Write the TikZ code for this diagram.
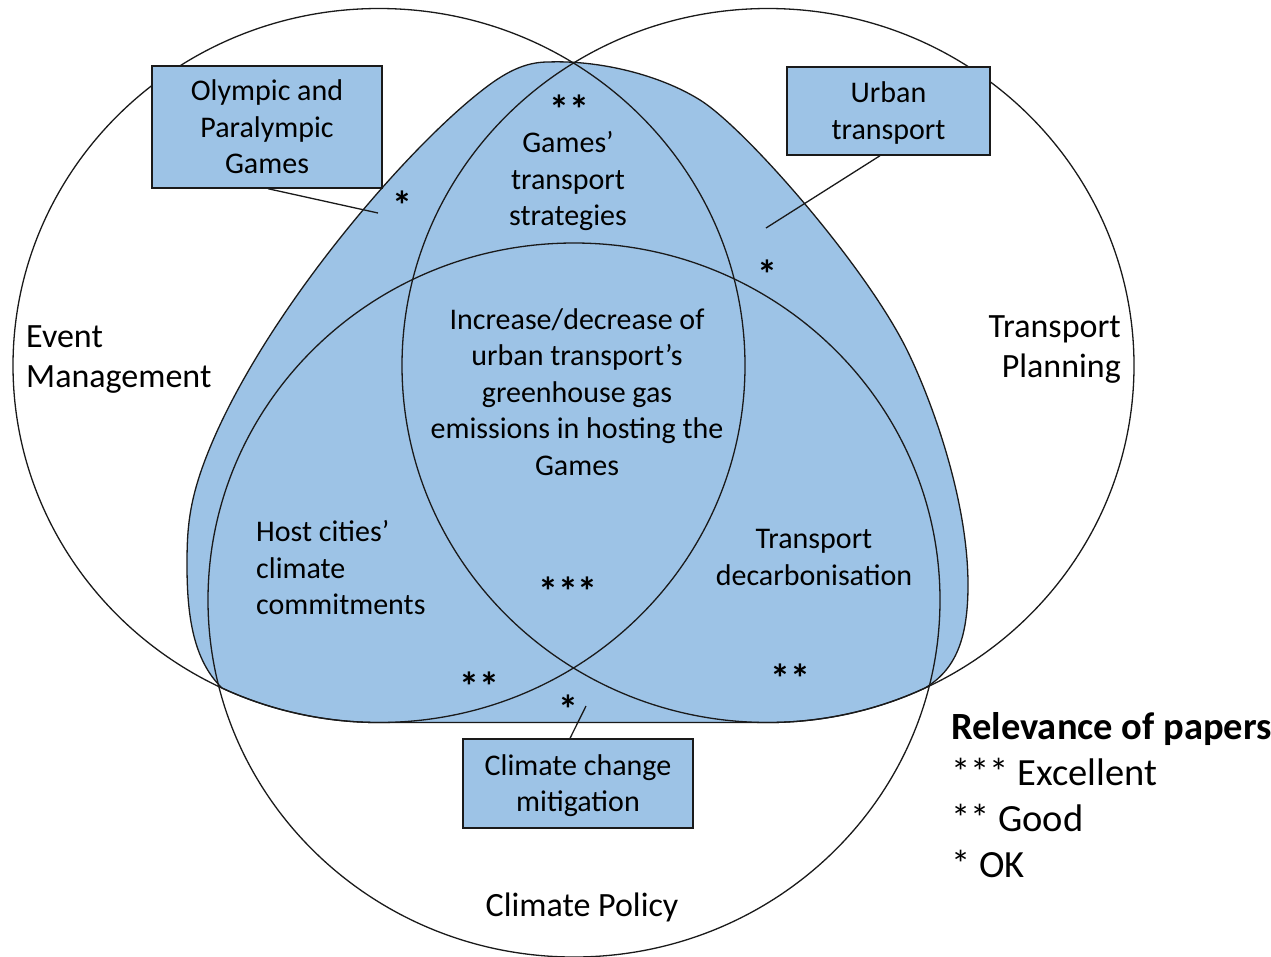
\documentclass[tikz,border=0pt]{standalone}
\usepackage{fontspec}
\setmainfont{Carlito}
\usetikzlibrary{calc}
\definecolor{blobblue}{HTML}{9DC3E6}
\definecolor{inkline}{HTML}{1A1A1A}
\newcommand\mystrut{\rule[-6pt]{0pt}{32pt}}
\begin{document}
\begin{tikzpicture}[x=1pt,y=-1pt,
  circ/.style={draw=inkline, line width=1.3pt},
  box/.style={draw=inkline, fill=blobblue, line width=1.4pt, align=center, inner sep=0pt,
    font=\fontsize{30}{36.5}\selectfont},
  lbl/.style={inner sep=0pt, font=\fontsize{30}{36.5}\selectfont},
  biglbl/.style={inner sep=0pt, font=\fontsize{34}{40}\selectfont},
  starlbl/.style={inner sep=0pt, anchor=base, font=\bfseries\fontsize{40}{40}\selectfont},
  legend/.style={inner sep=0pt, anchor=west, font=\fontsize{38.5}{46}\selectfont},
  conn/.style={draw=inkline, line width=1.3pt}
]
\useasboundingbox (0,0) rectangle (1271,956);
\fill[white] (0,0) rectangle (1271,956);

% blue blob
\filldraw[fill=blobblue, draw=inkline, line width=1.3pt]
  (548,62) .. controls (600,60) and (660,75) .. (700,100)
  .. controls (745,128) and (865,265) .. (907,350)
  .. controls (932,401) and (968,500) .. (968,585)
  .. controls (968,640) and (955,670) .. (925,688)
  .. controls (882,708) and (827,722.5) .. (768,722.5)
  -- (379,722.5)
  .. controls (320,722.5) and (265,708) .. (222,688)
  .. controls (193,660) and (187,615) .. (187,565)
  .. controls (187,530) and (188.5,502) .. (207,455)
  .. controls (260,320) and (400,155) .. (480,92)
  .. controls (505,72) and (525,62) .. (548,62) -- cycle;

% three sets
\draw[circ] (379,365.5) ellipse [x radius=366, y radius=357];
\draw[circ] (768,365.5) ellipse [x radius=366, y radius=357];
\draw[circ] (574,600) ellipse [x radius=366, y radius=357];

% free ends of the pointer lines
\coordinate (olyend) at (378,213);
\coordinate (urbend) at (766,228);
\coordinate (ccmend) at (586,706);

% boxes
\node[box, minimum width=230pt, minimum height=122pt] (oly) at (267,127)
  {\mystrut Olympic and\\\mystrut Paralympic\\\mystrut Games};
\node[box, minimum width=203pt, minimum height=88pt] (urb) at (888.5,111)
  {\mystrut Urban\\\mystrut transport};
\node[box, minimum width=230pt, minimum height=89pt] (ccm) at (578,783.5)
  {\mystrut Climate change\\\mystrut mitigation};

\draw[conn] ([xshift=1pt]oly.south) -- (olyend);
\draw[conn] ([xshift=-8.5pt]urb.south) -- (urbend);
\draw[conn] ([xshift=-8pt]ccm.north) -- (ccmend);

% region labels
\node[lbl, align=center] (games) at (568,179)
  {\mystrut Games’\\\mystrut transport\\\mystrut strategies};
\node[lbl, align=center] (core) at (577,392)
  {\mystrut Increase/decrease of\\\mystrut urban transport’s\\\mystrut greenhouse gas\\\mystrut emissions in hosting the\\\mystrut Games};
\node[lbl, align=left, anchor=west] (host) at (256,568)
  {\mystrut Host cities’\\\mystrut climate\\\mystrut commitments};
\node[lbl, align=center] (decarb) at (814,557)
  {\mystrut Transport\\\mystrut decarbonisation};

% set labels
\node[biglbl, align=left, anchor=west] (event) at (26,357)
  {\mystrut Event\\\mystrut Management};
\node[biglbl, align=right, anchor=east] (tplan) at (1121,347)
  {\mystrut Transport\\\mystrut Planning};
\node[biglbl] (cpol) at (582,906) {\mystrut Climate Policy};

% relevance stars
\node[starlbl] (s1) at (569,123.5) {**};
\node[starlbl] (s2) at (402,219.5) {*};
\node[starlbl] (s3) at (767,288.5) {*};
\node[starlbl] (s4) at (568,605.5) {***};
\node[starlbl] (s5) at (479,700.5) {**};
\node[starlbl] (s6) at (790,692) {**};
\node[starlbl] (s7) at (568,723) {*};

% legend
\node[legend, font=\bfseries\fontsize{38.5}{46}\selectfont] (lg0) at (951,729) {\mystrut Relevance of papers};
\node[legend] (lg1) at (951,775) {\mystrut *** Excellent};
\node[legend] (lg2) at (951,821) {\mystrut ** Good};
\node[legend] (lg3) at (951,867) {\mystrut * OK};
\end{tikzpicture}
\end{document}
